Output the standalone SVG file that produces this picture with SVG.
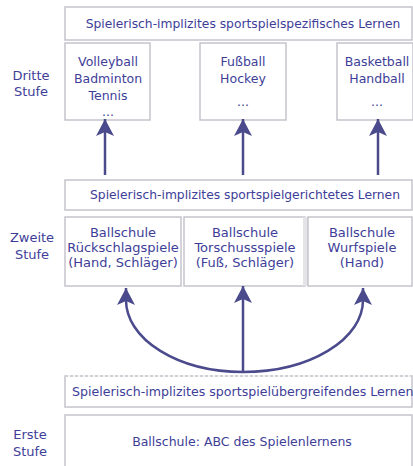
<svg xmlns="http://www.w3.org/2000/svg" width="413" height="466" viewBox="0 0 413 466">
<defs>
<style>
text{font-family:"DejaVu Sans","Liberation Sans",sans-serif;font-size:12.3px;fill:#3e3e98;text-anchor:middle}
.lab{font-size:13px}
.b3{font-size:12.5px}
.b2{font-size:13px}
.box{fill:#ffffff;stroke:#c4c4cc;stroke-width:1.5}
.con{fill:none;stroke:#4a4a8c;stroke-width:2.5}
</style>
<marker id="ah" markerUnits="userSpaceOnUse" markerWidth="20" markerHeight="18" refX="17" refY="9" orient="auto">
<path d="M0,0 L17,9 L0,18 L4,9 Z" fill="#4a4a8c"/>
</marker>
</defs>
<rect width="413" height="466" fill="#ffffff"/>
<g id="stufe3">
<text class="lab" x="31" y="80">Dritte</text><text class="lab" x="31" y="96">Stufe</text>
</g>
<g id="stufe2">
<text class="lab" x="32" y="242">Zweite</text><text class="lab" x="32" y="259">Stufe</text>
</g>
<g id="stufe1">
<text class="lab" x="30" y="439">Erste</text><text class="lab" x="30" y="456">Stufe</text>
</g>
<g id="bar3">
<rect class="box" x="65" y="7" width="347" height="33"/>
<text x="243" y="28">Spielerisch-implizites sportspielspezifisches Lernen</text>
</g>
<g id="volley">
<rect class="box" x="65" y="43" width="85" height="77"/>
<text class="b3" x="108" y="66">Volleyball</text><text class="b3" x="108" y="83">Badminton</text><text class="b3" x="108" y="100">Tennis</text><text class="b3" x="108" y="116">...</text>
</g>
<g id="fussball">
<rect class="box" x="200" y="43" width="86" height="77"/>
<text class="b3" x="243" y="66">Fußball</text><text class="b3" x="243" y="83">Hockey</text><text class="b3" x="243" y="106">...</text>
</g>
<g id="basket">
<rect class="box" x="337" y="43" width="76" height="77"/>
<text class="b3" x="377" y="66">Basketball</text><text class="b3" x="377" y="83">Handball</text><text class="b3" x="377" y="106">...</text>
</g>
<g id="bar2">
<rect class="box" x="65" y="180" width="347" height="30"/>
<text x="245" y="199">Spielerisch-implizites sportspielgerichtetes Lernen</text>
</g>
<g id="rueck">
<rect class="box" x="65" y="217" width="116" height="69"/>
<text class="b2" x="123" y="237">Ballschule</text><text class="b2" x="123" y="252">Rückschlagspiele</text><text class="b2" x="123" y="267">(Hand, Schläger)</text>
</g>
<g id="tor">
<rect class="box" x="184" y="217" width="121" height="69"/>
<text class="b2" x="245" y="237">Ballschule</text><text class="b2" x="245" y="252">Torschussspiele</text><text class="b2" x="245" y="267">(Fuß, Schläger)</text>
</g>
<g id="wurf">
<rect x="303" y="217" width="5" height="69" fill="#e4e4e8"/>
<rect class="box" x="308" y="217" width="104" height="69"/>
<text class="b2" x="362" y="237">Ballschule</text><text class="b2" x="362" y="252">Wurfspiele</text><text class="b2" x="362" y="267">(Hand)</text>
</g>
<g id="bar1">
<rect class="box" x="65" y="376" width="347" height="31"/>
<line x1="65" y1="376" x2="412" y2="376" stroke="#ffffff" stroke-width="1.5"/>
<line x1="65" y1="376" x2="412" y2="376" stroke="#c4c4cc" stroke-width="1.5" stroke-dasharray="3,2"/>
<text x="72" y="396" style="text-anchor:start;font-size:12.6px">Spielerisch-implizites sportspielübergreifendes Lernen</text>
</g>
<g id="abc">
<path class="box" d="M65,466 V415 H412 V466"/>
<text class="b3" x="242" y="446">Ballschule: ABC des Spielenlernens</text>
</g>
<g id="connectors">
<line class="con" x1="105" y1="175" x2="105" y2="119" marker-end="url(#ah)"/>
<line class="con" x1="243" y1="175" x2="243" y2="119" marker-end="url(#ah)"/>
<line class="con" x1="378" y1="175" x2="378" y2="119" marker-end="url(#ah)"/>
<line class="con" x1="243" y1="372" x2="243" y2="286" marker-end="url(#ah)"/>
<path class="con" d="M243,372 A117,72 0 0 1 126,300 L126,288" marker-end="url(#ah)"/>
<path class="con" d="M243,372 A120,72 0 0 0 363,300 L363,288" marker-end="url(#ah)"/>
</g>
</svg>
